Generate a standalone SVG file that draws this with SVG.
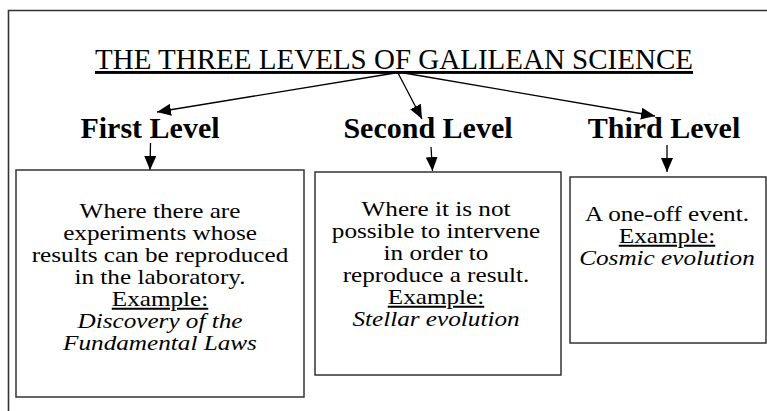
<svg xmlns="http://www.w3.org/2000/svg" width="767" height="411" viewBox="0 0 767 411">
<style>
.frame{stroke:#333;stroke-width:1.6;fill:none}
.box{fill:#fff;stroke:#333;stroke-width:1.5}
.conn{stroke:#000;stroke-width:1.3;fill:none;marker-end:url(#ah)}
.t{font-family:"Liberation Serif","Times New Roman","DejaVu Serif",serif;fill:#000;text-anchor:middle}
.title{font-size:29px;text-decoration:underline}
.lvl{font-size:30px;font-weight:bold}
.body{font-size:20px}
.u{text-decoration:underline}
.i{font-style:italic}
</style>
<defs>
<marker id="ah" markerUnits="userSpaceOnUse" markerWidth="14" markerHeight="12" refX="14" refY="6" orient="auto">
<path d="M0,0 L14,6 L0,12 z" fill="#000"/>
</marker>
</defs>
<rect width="767" height="411" fill="#fff"/>
<path class="frame" d="M8.5,411 L8.5,10.5 L767,10.5"/>
<g id="title">
<text class="t title" x="394" y="69">THE THREE LEVELS OF GALILEAN SCIENCE</text>
</g>
<g id="first-level-label"><text class="t lvl" x="150" y="138">First Level</text></g>
<g id="second-level-label"><text class="t lvl" x="428" y="138">Second Level</text></g>
<g id="third-level-label"><text class="t lvl" x="664" y="138">Third Level</text></g>
<g id="connectors">
<line class="conn" x1="395" y1="73" x2="157" y2="112"/>
<line class="conn" x1="398" y1="73" x2="422" y2="119"/>
<line class="conn" x1="404" y1="73" x2="655" y2="116"/>
<line class="conn" x1="150.5" y1="143" x2="150" y2="170"/>
<line class="conn" x1="431" y1="147" x2="432.5" y2="171"/>
<line class="conn" x1="667" y1="145" x2="667" y2="172"/>
</g>
<g id="first-level-box">
<rect class="box" x="16" y="170" width="288" height="227"/>
<g transform="translate(160,0) scale(1.26,1)">
<text class="t body" x="0" y="218">Where there are</text>
<text class="t body" x="0" y="240">experiments whose</text>
<text class="t body" x="0" y="262">results can be reproduced</text>
<text class="t body" x="0" y="284">in the laboratory.</text>
<text class="t body u" x="0" y="306">Example:</text>
<text class="t body i" x="0" y="328">Discovery of the</text>
<text class="t body i" x="0" y="350">Fundamental Laws</text>
</g>
</g>
<g id="second-level-box">
<rect class="box" x="315" y="172" width="246" height="203"/>
<g transform="translate(436,0) scale(1.26,1)">
<text class="t body" x="0" y="216">Where it is not</text>
<text class="t body" x="0" y="238">possible to intervene</text>
<text class="t body" x="0" y="260">in order to</text>
<text class="t body" x="0" y="282">reproduce a result.</text>
<text class="t body u" x="0" y="304">Example:</text>
<text class="t body i" x="0" y="326">Stellar evolution</text>
</g>
</g>
<g id="third-level-box">
<rect class="box" x="570" y="177" width="196" height="166"/>
<g transform="translate(667,0) scale(1.26,1)">
<text class="t body" x="0" y="221">A one-off event.</text>
<text class="t body u" x="0" y="243">Example:</text>
<text class="t body i" x="0" y="265">Cosmic evolution</text>
</g>
</g>
</svg>
